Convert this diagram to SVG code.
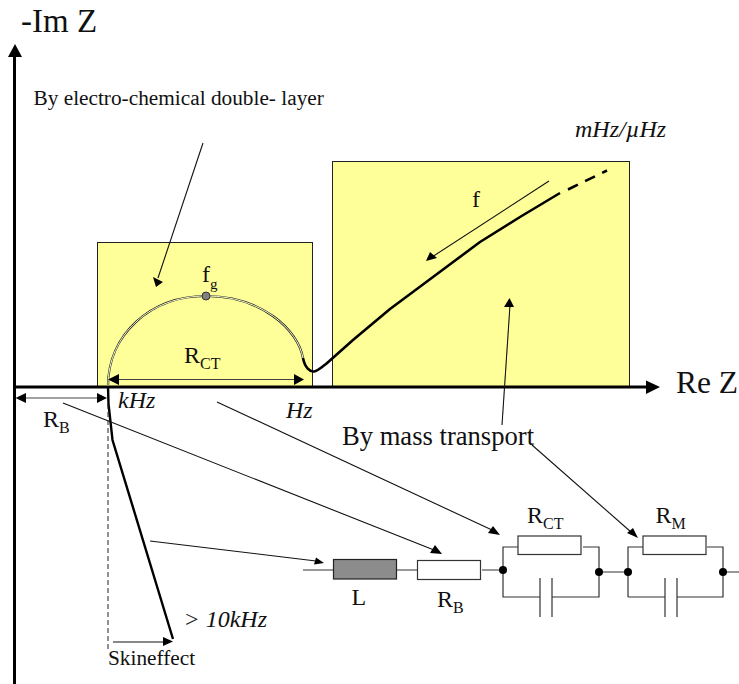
<svg xmlns="http://www.w3.org/2000/svg" width="739" height="684" viewBox="0 0 739 684">
<style>
text{font-family:"Liberation Serif","Times New Roman",serif;fill:#111}
.i{font-style:italic}
.t{fill:none;stroke:#111;stroke-width:1.1}
.g{fill:none;stroke:#444;stroke-width:1.2}
.w{fill:none;stroke:#333;stroke-width:1.2}
.box{fill:#ffff99;stroke:#222;stroke-width:1}
.r{fill:#fff;stroke:#333;stroke-width:1.2}
.d{fill:#000}
.a{fill:#000}
</style>
<rect width="739" height="684" fill="#fff"/>
<g id="regions">
<rect id="box-double-layer" class="box" x="97.500" y="242.500" width="215" height="144"/>
<rect id="box-mass-transport" class="box" x="332.500" y="161.500" width="297" height="225"/>
</g>
<g id="axes">
<path d="M14.500 52V684" stroke="#000" stroke-width="3" fill="none"/>
<path d="M15 44L22 57H8Z" class="a"/>
<path d="M14 387H648" stroke="#000" stroke-width="3" fill="none"/>
<path d="M660 387L646 380.500V394Z" class="a"/>
</g>
<g id="curves">
<path d="M108 386C108 335 150 296 206 296C262 296 298 330 303 358" fill="none" stroke="#222" stroke-width="2.200"/>
<path d="M108 386C108 335 150 296 206 296C262 296 298 330 303 358" fill="none" stroke="#ffffcc" stroke-width="1"/>
<path d="M303 358C305 368 310 372 314 371.500C318 371 322 367 326 364L353 340L390 309L433 277L480 242L520 217L560 193" fill="none" stroke="#000" stroke-width="2.600" stroke-linejoin="round"/>
<path d="M568 189.500L607 170.500" fill="none" stroke="#000" stroke-width="2.600" stroke-dasharray="11 8"/>
<circle cx="206" cy="296" r="4" fill="#808080" stroke="#333" stroke-width="1"/>
<path d="M108 386L108.500 404L112.500 440L173 639" fill="none" stroke="#000" stroke-width="2.400"/>
<path d="M108 404V650" fill="none" stroke="#222" stroke-width="1" stroke-dasharray="5 3"/>
</g>
<g id="connectors">
<path class="t" d="M203 143L158 278"/><path class="a" d="M156 287L153 277L163 282Z"/>
<path class="t" d="M549 181L432 257"/><path class="a" d="M426 261L430 252L437 258Z"/>
<path class="t" d="M502 425L510 305"/><path class="a" d="M509.500 298L514 307H504Z"/>
<path class="g" d="M118 379.500H295"/><path class="a" d="M108 379.500L119 374V385Z"/><path class="a" d="M304 379.500L294 374V385Z"/>
<path class="g" d="M25 398H98"/><path class="a" d="M15.500 398L26 393V403Z"/><path class="a" d="M107 398L97 393V403Z"/>
<path class="t" d="M113 642H164"/><path class="a" d="M173 641.500L163 637V646Z"/>
<path class="t" d="M63 403L434 550"/><path class="a" d="M442 554L430 553L435 545Z"/>
<path class="t" d="M217 402L492 530"/><path class="a" d="M500 535L488 533L493 526Z"/>
<path class="t" d="M532 445L631 532"/><path class="a" d="M638 538L627 533L633 528Z"/>
<path class="t" d="M150 541L316 561"/><path class="a" d="M324 563L314 564.500L316 557.500Z"/>
</g>
<g id="circuit">
<path class="w" d="M303 570H333M397 570H417M482 570H503M503 570V547H518M503 570V597H540M552 597H599V547H583M599 572H628M628 572V547H643M628 597H665M677 597H723V547H707M723 572H739M628 572V597M723 572V597"/>
<path class="w" d="M540 578V617M552 578V617M665 578V617M677 578V617"/>
<rect id="inductor-L" x="333.500" y="559.500" width="63" height="19.500" fill="#8c8c8c" stroke="#222" stroke-width="1.200"/>
<rect id="resistor-RB" class="r" x="417.500" y="560.500" width="63" height="19"/>
<rect id="resistor-RCT" class="r" x="518" y="536" width="63" height="18.500"/>
<rect id="resistor-RM" class="r" x="643" y="536" width="63" height="18.500"/>
<circle class="d" cx="503" cy="570" r="4"/><circle class="d" cx="599" cy="572" r="4"/>
<circle class="d" cx="628" cy="572" r="4"/><circle class="d" cx="723" cy="572" r="4"/>
</g>
<g id="labels">
<text x="21" y="32" font-size="33">-Im Z</text>
<text x="33.500" y="105" font-size="21.300">By electro-chemical double- layer</text>
<text x="575" y="137" font-size="24" class="i">mHz/µHz</text>
<text x="472" y="207" font-size="24">f</text>
<text x="202" y="282" font-size="24">f<tspan font-size="15" dy="7">g</tspan></text>
<text x="184" y="363" font-size="24">R<tspan font-size="16" dy="6">CT</tspan></text>
<text x="676" y="393" font-size="31.500">Re Z</text>
<text x="118" y="408" font-size="24" class="i">kHz</text>
<text x="286" y="418" font-size="24" class="i">Hz</text>
<text x="43" y="427" font-size="24">R<tspan font-size="16" dy="6">B</tspan></text>
<text x="342" y="445" font-size="26.600">By mass transport</text>
<text x="527" y="523" font-size="24">R<tspan font-size="16" dy="6">CT</tspan></text>
<text x="655.500" y="523" font-size="24">R<tspan font-size="16" dy="6">M</tspan></text>
<text x="351.500" y="605" font-size="24">L</text>
<text x="437" y="607" font-size="24">R<tspan font-size="16" dy="6">B</tspan></text>
<text x="183.500" y="627" font-size="24" class="i">&gt; 10kHz</text>
<text x="108" y="665" font-size="21.300">Skineffect</text>
</g>
</svg>
